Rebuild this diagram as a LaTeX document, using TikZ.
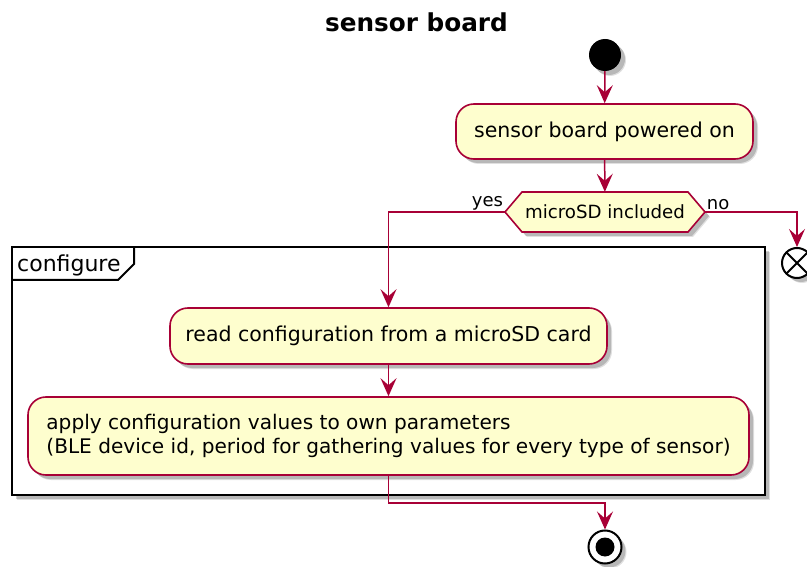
\documentclass[tikz,border=0pt]{standalone}
\usepackage{fontspec}
\setmainfont{DejaVu Sans}
\usetikzlibrary{arrows.meta,shadows}
\definecolor{actfill}{HTML}{FEFECE}
\definecolor{actline}{HTML}{A80036}
\tikzset{
  shadowed/.style={
    drop shadow={shadow xshift=5pt, shadow yshift=-5pt, opacity=0.12, fill=black},
    drop shadow={shadow xshift=4pt, shadow yshift=-4pt, opacity=0.18, fill=black}},
  act/.style={draw=actline, fill=actfill, line width=1.6pt, rounded corners=18pt,
    font=\fontsize{20.5}{24}\selectfont, text=black, shadowed, inner sep=0pt},
  arr/.style={draw=actline, line width=1.5pt, -{Stealth[length=18pt,width=16pt,inset=7pt]}},
  lbl/.style={font=\fontsize{18}{20}\selectfont, inner sep=1pt},
  frame/.style={draw=black, line width=2.4pt},
  startc/.style={circle, fill=black, minimum size=32pt, inner sep=0pt, shadowed},
  endcirc/.style={circle, draw=black, line width=2pt, fill=white, minimum size=33pt, inner sep=0pt, shadowed,
    path picture={\fill[black] (path picture bounding box.center) circle (9.5pt);}},
  stopc/.style={circle, draw=black, line width=2pt, fill=white, minimum size=30pt, inner sep=0pt, shadowed,
    path picture={\draw[line width=2pt] (path picture bounding box.north west) -- (path picture bounding box.south east)
      (path picture bounding box.north east) -- (path picture bounding box.south west);}},
  hexa/.style={fill=actfill, draw=actline, line width=1.6pt, shadowed},
}
\begin{document}
\begin{tikzpicture}[x=1pt, y=-1pt]
\useasboundingbox (0,0) rectangle (807,567);
% title
\node[font=\fontsize{24.7}{28}\selectfont\bfseries, anchor=base, inner sep=0pt] (title) at (416.5,32) {sensor board};
% group frame
\draw[frame, shadowed, fill=white] (12,247) rectangle (765,495);
\draw[line width=2pt] (12,280) -- (118,280) -- (134,264) -- (134,247);
\node[anchor=base west, font=\fontsize{22}{24}\selectfont, inner sep=0pt] (grp) at (17,272) {configure};
% nodes
\node[startc] (start) at (605,55) {};
\node[act, minimum width=297pt, minimum height=55pt] (powered) at (604.5,131.5) {sensor board powered on};
\path[hexa] (505,212) -- (522,192) -- (688,192) -- (705,212) -- (688,232) -- (522,232) -- cycle;
\node[minimum width=200pt, minimum height=40pt, inner sep=0pt, font=\fontsize{18.2}{20}\selectfont] (dec) at (605,212) {microSD included};
\node[stopc] (stop) at (797,263) {};
\node[act, minimum width=437pt, minimum height=56pt] (read) at (388.5,336) {read configuration from a microSD card};
\node[act, minimum width=721pt, minimum height=78pt, align=left, font=\fontsize{20.1}{23.5}\selectfont] (apply) at (388.5,436)
  {apply configuration values to own parameters\\(BLE device id, period for gathering values for every type of sensor)};
\node[endcirc] (endc) at (605,547) {};
\coordinate (j) at (605,503);
% connectors
\draw[arr] (start) -- (powered);
\draw[arr] (powered) -- (dec);
\draw[arr] (dec.west) node[lbl, anchor=south east] {yes} -| (read);
\draw[arr] (dec.east) node[lbl, anchor=south west] {no} -| (stop);
\draw[arr] (read) -- (apply);
\draw[arr] (apply) |- (j) -- (endc);
\end{tikzpicture}
\end{document}
